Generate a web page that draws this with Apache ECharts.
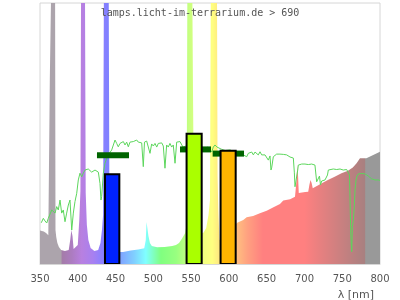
<!DOCTYPE html>
<html><head><meta charset="utf-8">
<script src="https://cdn.jsdelivr.net/npm/echarts@6/dist/echarts.min.js"></script>
<style>html,body{margin:0;padding:0;background:#fff}#c{width:400px;height:300px}</style>
</head><body><div id="c"></div>
<script>
// Lamp spectrum (relative intensity, 0..100 = plot height)
const lampNm = [350,355,358,361,363,364.5,370,370.5,371.5,373,375,378,383,388,390,391.5,393,394.5,397,400,402,403.5,404.3,409.6,410.5,412,414,417,422,427,430,432,433.5,434.5,441,442,446,455,460,470,480,488,490,491,492.5,493.5,495.5,498,505,515,525,530,534,538,542,544,545,551.7,552.5,553.5,556,562,566,570,573,575,576,584.3,585,586,587.5,590,600,605,611,619,623.5,632,641,650,659,667.6,672,681,687.5,689.5,690.5,691.5,692.5,701,705,706.5,708,709.5,711,723,731,740,749,757.6,764,769,773.5,775.8,782,791,800];
const lampVal = [12.8,12.5,11.9,11,70.9,100,100,13,10.3,8,6.5,5.4,5,5.4,9.2,13,10.7,5.7,5.4,7.3,16.9,28,100,100,27.2,15,9.2,6.1,5,5.4,8,13,18.8,100,100,13,6,4.6,4.6,5.2,5.6,6,9.2,16.1,16.1,10.7,8,6.9,6.4,6.5,6.9,7.3,8,9.8,11.8,15,100,100,66,30,15,11.9,11.9,13.8,18.8,24.5,100,100,34,20.7,9.2,9.2,12,14,15.8,16.9,17.9,18.4,19.4,20.4,21.7,23,24.3,24.8,25.8,32,37.9,34,27.2,27.6,27.7,30.3,32.2,31,29,30.9,32.2,33.4,34.8,35.7,37,38.6,40.5,39.8,40.5,41.8,43];

// Reference (sunlight) spectrum
const sunNm = [351.7,354.4,356.6,358.9,361,363.2,365.5,367.6,369.9,372.1,374.2,376.5,378.7,380.8,383.1,385.3,387.5,389.7,392,394.1,396.3,398.6,400.7,402.9,405.2,407.3,409.6,411.8,413.9,416.2,418.4,420.5,422.8,425,427.2,429.4,430.7,431.6,433.8,436,438.3,440.4,442.6,444.9,447,449.3,451.5,453.6,455.9,458.1,460.3,462.5,464.7,466.9,469.1,471.4,473.5,475.7,478,480.1,482.4,484.6,486.7,488.3,491.2,493.3,495.6,497.8,500,502.2,504.5,506.6,508.8,511.1,513.2,515.4,517.6,519.8,522,524.3,526.4,528.7,530.9,533,535.3,539.2,543.2,548,553.8,559,564.4,568.4,572.4,575,577.2,579.4,581.6,584.3,590,595,601.5,608,614.7,619,621.3,623.6,625.7,628,630.2,632.4,634.6,636.8,638.9,641.2,643.4,645.5,647.8,650,652.2,654.4,655.7,656.6,658.8,661,663.2,665.4,667.6,669.9,672,674.3,676.5,678.6,680.9,683.1,685.3,686.6,687.5,689.8,691.1,691.9,694.1,696.4,698.5,700.7,703,705.1,707.4,709.6,711.7,713.9,714.9,716.2,718.3,719.9,721.2,722.8,725,727.2,729.5,730.5,731.6,733.8,738.2,742.7,747.1,751.4,755.9,758,759.6,760.3,761.2,762,762.6,763.4,764.7,766,766.9,768.3,769.6,771.3,775.8,780.1,782.4,784.5,786.8,789,791.1,793.4,795.6,797.7,800];
const sunVal = [15.8,17.5,16.5,15.7,17.5,16.9,20.7,21.3,19.5,22,20.7,24.5,19.5,20.7,16.2,19.5,22.6,24.5,13,19.5,23.9,27.1,32.2,34.8,33.4,34.8,36,35.4,36.4,36,35.2,34.8,36,36,35.2,30.9,24.5,25.8,34.8,38.6,40.5,41.8,42.4,43.7,44.3,47.5,46.2,44.9,46.2,45.6,46.9,45.6,46.7,44.9,46.7,46,46.9,46.2,47.5,46.7,47.3,46.4,37.3,46.7,47.1,46.4,42.4,46,45.2,46.2,44.8,46.2,45.6,46.4,45.2,36.7,45.6,44.8,46.2,44.8,45.6,38.6,46.7,46.2,46.9,44.8,45.2,45.6,45.6,45,44.8,44.4,44.8,43.7,42.9,44.8,45.6,44.8,44,43.5,43.7,43,42.5,41.8,42.4,41.1,42.4,41.8,42.9,41.8,42.9,42.4,41.8,43,41.8,42.4,41.8,41.4,39.8,41.4,36,36.8,41.1,41.8,42.1,41.6,42.1,41.8,42,41.6,41.8,41.1,41,40.5,40.6,35.2,29.6,30.3,36,37.9,38.6,38.3,38.7,38.3,38.6,38.1,38.5,38.3,38.3,37.9,37.2,31.5,31,33.7,30.3,31.8,31.4,32.2,31.5,34.1,36,36.2,36.4,36.2,36.4,36,36.2,35.6,34.1,25.8,13,7.3,4.7,14.3,16.9,22,28.4,32.2,33.7,34.5,34.7,34.5,34.3,33.7,33.4,32.6,32.2,32.2,31.6,32.2,32];

// Band bars (from nm, to nm, value)
const bandFrom = [436, 544, 589];
const bandTo   = [455, 564, 609];
const bandVal  = [34.4, 49.9, 43.4];

// Dark green reference markers (from nm, to nm, value)
const markFrom = [425.4, 535.3, 578.5];
const markTo   = [467.8, 576.3, 620];
const markVal  = [41.65, 43.9, 42.3];

// Axis
const xMin = 350, xMax = 800, xStep = 50;

// --- styles ---
const bandColors = ['#0022ff', '#aaff00', '#ffb400'];
const gradNm = [350,378,379,392,405,420,432,440,455,475,490,500,510,530,546,565,578,590,610,625,645,700,720,750,780,781,800];
const gradCol = ['#aca4ac','#aca4ac','#a47ca8','#ac7cc0','#b880e0','#a880f0','#8c80ff','#8080ff','#80a0ff','#80d0ff','#80ffff','#80ffc0','#80ff80','#98ff80','#c4ff80','#f0ff80','#ffff80','#ffe080','#ffc080','#ffa080','#ff8080','#ff8080','#e88080','#c88080','#a88080','#999999','#999999'];

const chart = echarts.init(document.getElementById('c'), null, {renderer: 'canvas'});
const stops = gradNm.map((n, i) => ({offset: (n - xMin) / (xMax - xMin), color: gradCol[i]}));

chart.setOption({
  animation: false,
  title: [
    {text: 'lamps.licht-im-terrarium.de > 690', left: 'center', top: 3,
     textStyle: {fontFamily: 'DejaVu Sans Mono', fontSize: 10, fontWeight: 'normal', color: '#555'}},
    {text: 'λ [nm]', right: 21, top: 285,
     textStyle: {fontFamily: 'DejaVu Sans', fontSize: 11, fontWeight: 'normal', color: '#555'}}
  ],
  grid: {left: 40, right: 20, top: 3, bottom: 36, show: true, borderColor: '#d6d6d6', borderWidth: 1},
  xAxis: {type: 'value', min: xMin, max: xMax, interval: xStep,
    axisLine: {show: true, lineStyle: {color: '#d6d6d6'}}, axisTick: {show: false}, splitLine: {show: false},
    axisLabel: {fontFamily: 'DejaVu Sans', fontSize: 10, color: '#555', margin: 10}},
  yAxis: {type: 'value', min: 0, max: 100, show: false},
  series: [
    {type: 'line', z: 1, symbol: 'none', clip: true,
     data: lampNm.map((n, i) => [n, lampVal[i]]),
     lineStyle: {width: 0, opacity: 0},
     areaStyle: {opacity: 1, color: new echarts.graphic.LinearGradient(0, 0, 1, 0, stops)}},
    {type: 'line', z: 2, symbol: 'none', clip: true,
     data: sunNm.map((n, i) => [n, sunVal[i]]),
     lineStyle: {width: 1, color: '#5cd65c'}},
    {type: 'custom', z: 3, clip: true,
     encode: {x: [0, 1], y: 2},
     data: markFrom.map((f, i) => [f, markTo[i], markVal[i]]),
     renderItem: function (params, api) {
       const a = api.coord([api.value(0), api.value(2)]);
       const b = api.coord([api.value(1), api.value(2)]);
       return {type: 'rect', shape: {x: a[0], y: a[1] - 3, width: b[0] - a[0], height: 6},
               style: {fill: '#006400'}};
     }},
    {type: 'custom', z: 4, clip: true,
     encode: {x: [0, 1], y: 2},
     data: bandFrom.map((f, i) => ({value: [f, bandTo[i], bandVal[i]], itemStyle: {color: bandColors[i]}})),
     renderItem: function (params, api) {
       const a = api.coord([api.value(0), api.value(2)]);
       const b = api.coord([api.value(1), 0]);
       return {type: 'rect', shape: {x: a[0], y: a[1], width: b[0] - a[0], height: b[1] - a[1]},
               style: {fill: api.visual('color'), stroke: '#000', lineWidth: 2}};
     }}
  ]
});
</script></body></html>
